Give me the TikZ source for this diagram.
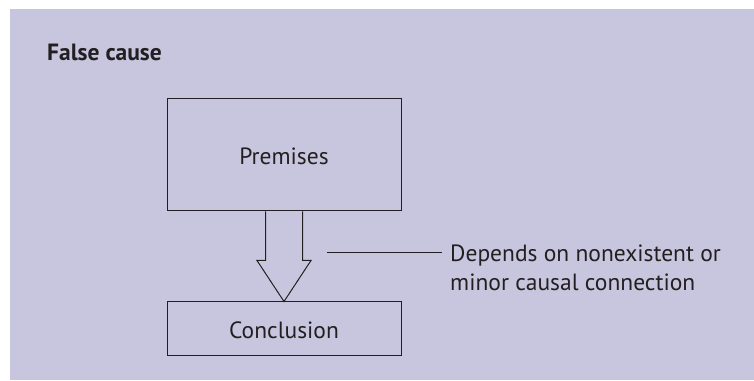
\documentclass[tikz,border=0pt]{standalone}
\usepackage{fontspec}
\setmainfont{PT Sans}
\definecolor{bg}{RGB}{200,198,222}
\definecolor{ink}{RGB}{35,31,32}
\begin{document}
\begin{tikzpicture}[x=1pt,y=1pt,
  box/.style={draw=ink, line width=1pt, inner sep=0pt},
  lbl/.style={font=\fontsize{23.5}{29}\selectfont, text=ink, inner sep=0pt},
  link/.style={draw=ink, line width=1pt}]
\useasboundingbox (0,0) rectangle (754,380);
\fill[white] (0,0) rectangle (754,380);
\fill[bg] (10,0) rectangle (754,371);
\node[anchor=base west, inner sep=0pt, font=\bfseries\fontsize{23.5}{28}\selectfont, text=ink] (title) at (47,319) {False cause};
\node[box, minimum width=234pt, minimum height=112pt] (prem) at (284,225) {};
\node[lbl, anchor=base] (premt) at (284,215.7) {Premises};
\node[box, minimum width=234pt, minimum height=53pt] (conc) at (284,51.5) {};
\node[lbl, anchor=base] (conct) at (284,42) {Conclusion};
\draw[link, line join=miter]
  ([xshift=-18.5pt]prem.south) -- ([xshift=-18.5pt,yshift=-49pt]prem.south)
  -- ([xshift=-27pt,yshift=-49pt]prem.south) -- (conc.north)
  -- ([xshift=27pt,yshift=-49pt]prem.south) -- ([xshift=18.5pt,yshift=-49pt]prem.south)
  -- ([xshift=18.5pt]prem.south);
\node[lbl, anchor=base west] (note1) at (450,118.5) {Depends on nonexistent or};
\node[lbl, anchor=base west] (note2) at (450,89) {minor causal connection};
\coordinate (lstart) at (327,127);
\draw[link] (lstart) -- ([xshift=-8pt]note1.west |- lstart);
\end{tikzpicture}
\end{document}
